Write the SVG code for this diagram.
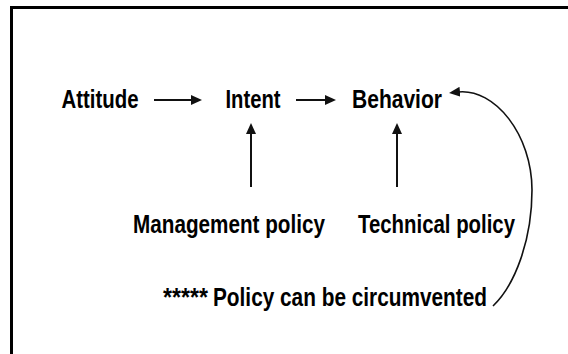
<svg xmlns="http://www.w3.org/2000/svg" width="568" height="354" viewBox="0 0 568 354">
  <style>
    .lbl { font-family: "Liberation Sans", Arial, sans-serif; font-weight: bold; fill: #000; }
    .big { font-size: 26.5px; }
    .mid { font-size: 25px; }
    .conn { fill: none; stroke: #111; stroke-width: 2; }
    .curve { fill: none; stroke: #111; stroke-width: 1.6; }
    .frame { fill: none; stroke: #000; stroke-width: 3; }
  </style>
  <defs>
    <marker id="head" markerUnits="userSpaceOnUse" markerWidth="11" markerHeight="10" refX="2" refY="5" orient="auto-start-reverse">
      <path d="M0,0 L11,5 L0,10 z" fill="#111"/>
    </marker>
  </defs>

  <rect width="568" height="354" fill="#fff"/>
  <!-- open frame: left and top edges -->
  <path class="frame" d="M11.5,354 V7.5 H568"/>

  <g id="attitude">
    <text class="lbl big" x="61.5" y="107.5" textLength="77" lengthAdjust="spacingAndGlyphs">Attitude</text>
  </g>
  <g id="intent">
    <text class="lbl big" x="225.5" y="107.5" textLength="55" lengthAdjust="spacingAndGlyphs">Intent</text>
  </g>
  <g id="behavior">
    <text class="lbl big" x="352" y="107.5" textLength="90" lengthAdjust="spacingAndGlyphs">Behavior</text>
  </g>
  <g id="management-policy">
    <text class="lbl mid" x="133" y="232.5" textLength="192" lengthAdjust="spacingAndGlyphs">Management policy</text>
  </g>
  <g id="technical-policy">
    <text class="lbl mid" x="358" y="232.5" textLength="157" lengthAdjust="spacingAndGlyphs">Technical policy</text>
  </g>
  <g id="circumvented">
    <text class="lbl mid" x="163" y="306" textLength="45" lengthAdjust="spacingAndGlyphs">*****</text>
    <text class="lbl big" x="213" y="306" textLength="274" lengthAdjust="spacingAndGlyphs">Policy can be circumvented</text>
  </g>

  <g id="connectors">
    <line class="conn" x1="154" y1="100" x2="193" y2="100" marker-end="url(#head)"/>
    <line class="conn" x1="296" y1="100" x2="327" y2="100" marker-end="url(#head)"/>
    <line class="conn" x1="251" y1="187" x2="251" y2="132" marker-end="url(#head)"/>
    <line class="conn" x1="397" y1="187" x2="397" y2="132" marker-end="url(#head)"/>
    <path class="curve" d="M458,92 C495,88 532,135 532,190 C532,240 515,285 493,306" marker-start="url(#head)"/>
  </g>
</svg>
